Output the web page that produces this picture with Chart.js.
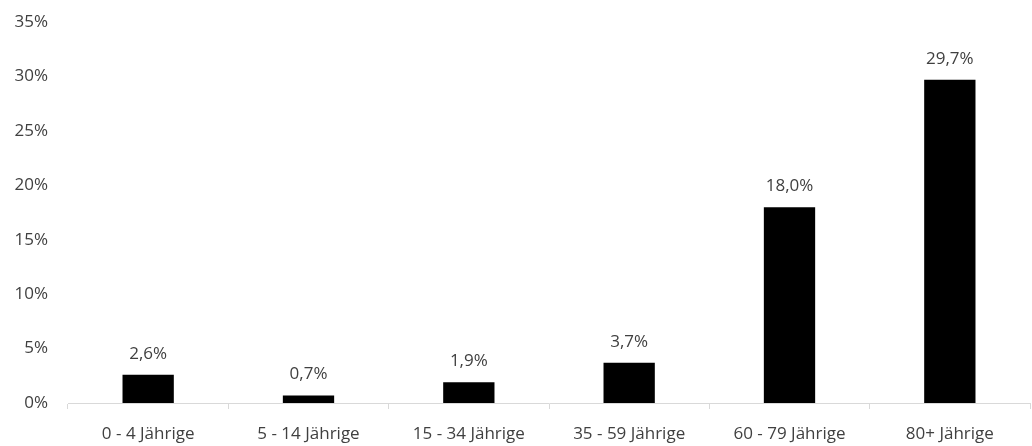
<!DOCTYPE html>
<html>
<head>
<meta charset="utf-8">
<script src="https://cdn.jsdelivr.net/npm/chart.js@4"></script>
<style>
  html, body { margin: 0; padding: 0; background: #fff; }
  #wrap { width: 1032px; height: 446px; }
</style>
</head>
<body>
<div id="wrap"><canvas id="myChart" width="1032" height="446"></canvas></div>
<script>
// Altersgruppen und Anteile (in %)
const categories = ['0 - 4 Jährige', '5 - 14 Jährige', '15 - 34 Jährige', '35 - 59 Jährige', '60 - 79 Jährige', '80+ Jährige'];
const values = [2.6, 0.7, 1.9, 3.7, 18.0, 29.7];
const yTicks = [0, 5, 10, 15, 20, 25, 30, 35];

const fontFamily = '"Open Sans", Lato, sans-serif';
const textColor = '#404040';

// simple label plugin, writes the value above each bar
const barLabels = {
    id: 'barLabels',
    afterDatasetsDraw(chart) {
        const ctx = chart.ctx;
        const meta = chart.getDatasetMeta(0);
        ctx.save();
        ctx.font = '17px ' + fontFamily;
        ctx.fillStyle = textColor;
        ctx.textAlign = 'center';
        ctx.textBaseline = 'alphabetic';
        meta.data.forEach((bar, i) => {
            const txt = values[i].toFixed(1).replace('.', ',') + '%';
            ctx.fillText(txt, bar.x, bar.y - 16);
        });
        ctx.restore();
    }
};

const config = {
    type: 'bar',
    data: {
        labels: categories,
        datasets: [{
            data: values,
            backgroundColor: '#000000',
            borderWidth: 0,
            categoryPercentage: 1.0,
            barPercentage: 0.32
        }]
    },
    options: {
        responsive: false,
        animation: false,
        layout: { padding: { top: 3, right: 2, left: 0, bottom: 0 } },
        plugins: {
            legend: { display: false },
            tooltip: { enabled: false }
        },
        scales: {
            x: {
                offset: true,
                grid: {
                    display: true,
                    drawOnChartArea: false,
                    drawTicks: true,
                    tickLength: 6,
                    color: '#d9d9d9',
                    offset: true
                },
                border: { display: true, color: '#d9d9d9', width: 1 },
                ticks: {
                    color: textColor,
                    font: { family: fontFamily, size: 17 },
                    padding: 15,
                    maxRotation: 0
                },
                afterFit(scale) { scale.height = 43; }
            },
            y: {
                min: 0,
                max: 35,
                afterBuildTicks(scale) { scale.ticks = yTicks.map(v => ({ value: v })); },
                grid: { display: false },
                border: { display: false },
                ticks: {
                    color: textColor,
                    font: { family: fontFamily, size: 17 },
                    padding: 12,
                    callback: v => v + '%'
                },
                afterFit(scale) { scale.width = 68; }
            }
        }
    },
    plugins: [barLabels]
};

new Chart(document.getElementById('myChart'), config);
</script>
</body>
</html>
